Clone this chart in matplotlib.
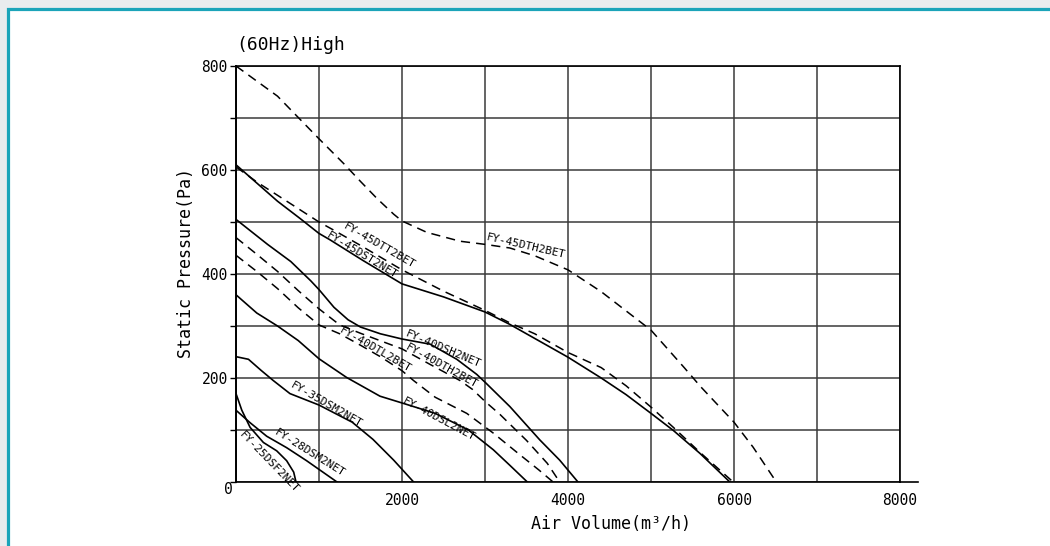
import matplotlib
matplotlib.use("Agg")
import matplotlib.pyplot as plt
from matplotlib.patches import Rectangle

## fan curves (x: m3/h, y: Pa)
x_45dth = [0, 500, 1000, 1300, 1500, 1700, 1900, 2000, 2300, 2700, 3000, 3300, 3600, 4000, 4400, 5000, 5400, 5600, 6000, 6230, 6510]
y_45dth = [800, 742, 660, 612, 578, 545, 515, 502, 480, 463, 457, 450, 435, 408, 366, 292, 220, 183, 115, 67, 0]

x_45dtt = [0, 250, 650, 1000, 1170, 1500, 2000, 2500, 3000, 3300, 3600, 4000, 4400, 4700, 5000, 5270, 5590, 5990]
y_45dtt = [606, 577, 536, 500, 485, 455, 408, 367, 330, 306, 285, 249, 220, 185, 144, 105, 57, 0]

x_45dst = [0, 250, 500, 770, 1000, 1130, 1530, 2000, 2500, 3000, 3300, 4000, 4400, 4700, 5000, 5270, 5590, 5950]
y_45dst = [610, 575, 540, 507, 478, 466, 426, 381, 356, 327, 303, 240, 200, 168, 132, 99, 55, 0]

x_40dsh = [0, 380, 660, 900, 1000, 1180, 1350, 1500, 1740, 2000, 2340, 2660, 2900, 3000, 3300, 3660, 3900, 4120]
y_40dsh = [505, 457, 424, 387, 370, 336, 312, 298, 285, 275, 265, 236, 207, 192, 145, 81, 42, 0]

x_40dth = [0, 250, 500, 750, 1000, 1250, 1500, 1750, 2000, 2340, 2700, 2850, 3000, 3180, 3500, 3750, 3900]
y_40dth = [470, 438, 405, 368, 333, 302, 286, 271, 256, 226, 195, 178, 155, 130, 80, 36, 0]

x_40dtl = [0, 250, 500, 750, 1000, 1250, 1500, 1750, 2000, 2140, 2400, 2780, 3100, 3400, 3650, 3820]
y_40dtl = [436, 405, 372, 335, 302, 285, 263, 240, 214, 195, 163, 132, 94, 55, 23, 0]

x_40dsl = [0, 250, 500, 750, 1000, 1333, 1735, 2000, 2400, 2800, 3100, 3300, 3510]
y_40dsl = [360, 325, 300, 272, 237, 201, 165, 152, 132, 100, 62, 32, 0]

x_35dsm = [0, 150, 300, 450, 650, 1000, 1400, 1650, 1900, 2140]
y_35dsm = [241, 236, 215, 195, 170, 148, 115, 82, 42, 0]

x_28dsm = [0, 170, 370, 610, 850, 1020, 1217]
y_28dsm = [138, 114, 88, 66, 41, 22, 0]

x_25dsf = [0, 70, 170, 330, 490, 610, 695, 723]
y_25dsf = [170, 138, 105, 76, 60, 41, 19, 0]

## label text, anchor (data) and screen angle
lbl_names = ["FY-45DTH2BET", "FY-45DTT2BET", "FY-45DST2NET", "FY-40DSH2NET", "FY-40DTH2BET",
             "FY-40DTL2BET", "FY-40DSL2NET", "FY-35DSM2NET", "FY-28DSM2NET", "FY-25DSF2NET"]
lbl_x = [3494, 1727, 1514, 2498, 2478, 1683, 2450, 1092, 892, 402]
lbl_y = [454, 454, 436, 255, 223, 255, 121, 148, 55, 39]
lbl_rot = [-13, -30, -31, -23, -29, -30, -28, -30, -32, -46]

curves = [
    (x_45dth, y_45dth, "--"), (x_45dtt, y_45dtt, "--"), (x_45dst, y_45dst, "-"),
    (x_40dsh, y_40dsh, "-"), (x_40dth, y_40dth, "--"), (x_40dtl, y_40dtl, "--"),
    (x_40dsl, y_40dsl, "-"), (x_35dsm, y_35dsm, "-"), (x_28dsm, y_28dsm, "-"),
    (x_25dsf, y_25dsf, "-"),
]

plt.rcParams["font.family"] = ["DejaVu Sans Mono"]

fig = plt.figure(figsize=(10.5, 5.46), dpi=100)
fig.patch.set_facecolor("#e9ecee")
# white panel with teal frame
fig.patches.append(Rectangle((7.5/1050, -0.1), 1.2, 1.1 - 9.5/546, transform=fig.transFigure,
                             facecolor="white", edgecolor="#1ba4b9", linewidth=2.3, zorder=-10))

ax = fig.add_axes([236/1050, 1-482/546, 664/1050, 416/546])
ax.set_facecolor("none")
ax.set_zorder(1)
ax.set_xlim(0, 8000)
ax.set_ylim(0, 800)

ax.set_xticks(range(0, 9000, 1000))
ax.set_xticklabels(["" if (v % 2000 or v == 0) else str(v) for v in range(0, 9000, 1000)])
ax.set_yticks(range(0, 900, 100))
ax.set_yticklabels(["" if (v % 200 or v == 0) else str(v) for v in range(0, 900, 100)])
ax.tick_params(axis="x", length=0, pad=8, labelsize=10.5)
ax.tick_params(axis="y", length=4, width=1, pad=2, labelsize=10.5)
ax.grid(True, color="#3a3a3a", linewidth=1.1)
for s in ax.spines.values():
    s.set_color("black")
    s.set_linewidth(1.2)
ax.spines["left"].set_linewidth(1.4)
# x axis line runs a bit past 8000
ax.plot([1, 1.027], [0, 0], transform=ax.transAxes, color="black", lw=1.2, clip_on=False)

for xs, ys, ls in curves:
    if ls == "--":
        ax.plot(xs, ys, color="black", lw=1.1, dashes=(6, 4), zorder=3)
    else:
        ax.plot(xs, ys, color="black", lw=1.2, zorder=3)

for name, lx, ly, rot in zip(lbl_names, lbl_x, lbl_y, lbl_rot):
    ax.text(lx, ly, name, rotation=rot, rotation_mode="anchor", ha="center", va="center",
            fontsize=8, color="black", clip_on=False, zorder=4)

fig.text(228/1050, 1-490/546, "0", ha="center", va="center", fontsize=10.5)
fig.text(236/1050, 1-45/546, "(60Hz)High", ha="left", va="center", fontsize=13)
fig.text(186/1050, 1-263/546, "Static Pressure(Pa)", rotation=90, ha="center", va="center", fontsize=12)
fig.text(611/1050, 1-524/546, "Air Volume(m\u00b3/h)", ha="center", va="center", fontsize=12)

fig.savefig("out.png", dpi=100, facecolor=fig.get_facecolor())
